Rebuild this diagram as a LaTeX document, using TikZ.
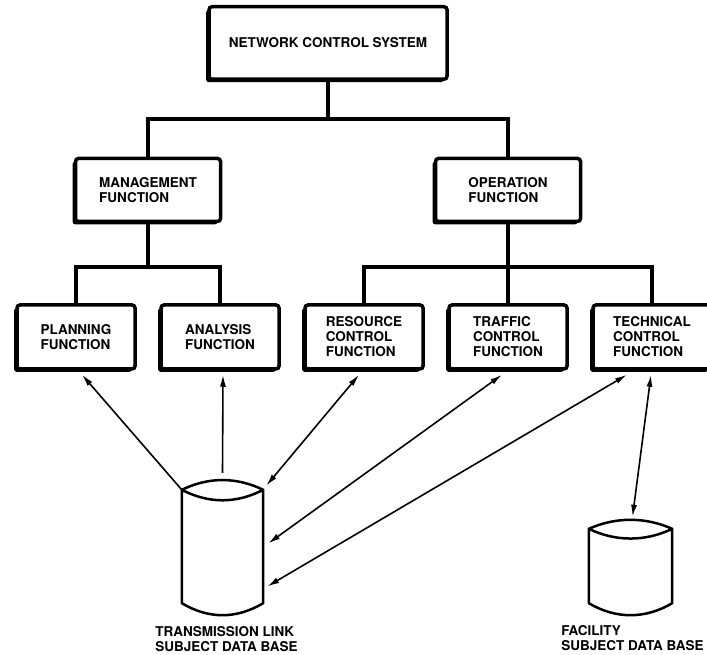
\documentclass[tikz,border=0pt]{standalone}
\usepackage{fontspec}
\setmainfont{TeX Gyre Heros}
\usetikzlibrary{arrows.meta,shadows}

\begin{document}
\begin{tikzpicture}[
  x=1pt, y=1pt,
  level distance=147pt,
  fnbox/.style={draw, line width=3.5pt, fill=white, rounded corners=3pt,
    align=left, inner sep=2pt, font=\fontsize{13.5}{15}\selectfont\bfseries,
    drop shadow={shadow xshift=-3pt, shadow yshift=-3pt, fill=black, opacity=1}},
  every child node/.style={fnbox},
  edge from parent/.style={draw, line width=4pt},
  level 1/.style={sibling distance=360pt, minimum width=145pt, minimum height=63pt,
    edge from parent path={(\tikzparentnode.south) -- +(0,-38) -| (\tikzchildnode.north)}},
  level 2/.style={sibling distance=144pt, minimum width=118pt, minimum height=64pt,
    edge from parent path={(\tikzparentnode.south) -- +(0,-44) -| (\tikzchildnode.north)}},
  dbline/.style={line width=2.5pt, line join=round},
  lbl/.style={align=left, inner sep=0pt, anchor=north, font=\fontsize{13.5}{15}\selectfont\bfseries},
  link/.style={line width=1.6pt, -{Latex[length=12pt,width=6pt]}},
  both/.style={link, {Latex[length=12pt,width=6pt]}-{Latex[length=12pt,width=6pt]}}
]
  \useasboundingbox (0,0) rectangle (707,654);

  \node[fnbox, minimum width=238pt, minimum height=72.5pt] (ncs) at (328,611) {NETWORK CONTROL SYSTEM}
    child {node (mgmt) {MANAGEMENT\\FUNCTION}
      child {node (plan) {PLANNING\\FUNCTION}}
      child {node (anal) {ANALYSIS\\FUNCTION}}
    }
    child {node (oper) {OPERATION\\FUNCTION}
      child {node (res) {RESOURCE\\CONTROL\\FUNCTION}}
      child {node (traf) {TRAFFIC\\CONTROL\\FUNCTION}}
      child {node (tech) {TECHNICAL\\CONTROL\\FUNCTION}}
    };

  \node[minimum width=81pt, minimum height=113pt, inner sep=0pt] (linkdb) at (222.5,107.5) {};
  \node[minimum width=83pt, minimum height=74pt, inner sep=0pt] (facdb) at (630.5,88) {};
  \foreach \db/\d in {linkdb/13, facdb/12}
    \draw[dbline] (\db.north west) .. controls +(27,\d) and +(-27,\d) .. (\db.north east)
      .. controls +(-27,-\d-1) and +(27,-\d-1) .. (\db.north west) -- (\db.south west)
      .. controls +(27,-16) and +(-27,-16) .. (\db.south east) -- (\db.north east);

  \node[lbl] (linklbl) at ([shift={(4,-23)}]linkdb.south) {TRANSMISSION LINK\\SUBJECT DATA BASE};
  \node[lbl] (faclbl) at ([shift={(2,-22)}]facdb.south) {FACILITY\\SUBJECT DATA BASE};

  \draw[link] (linkdb.north west) -- ([shift={(6,-4)}]plan.south);
  \draw[link] ([yshift=17pt]linkdb.north) -- ([shift={(3,-4)}]anal.south);
  \draw[both] ([shift={(3,4)}]linkdb.north east) -- ([shift={(-5,-4)}]res.south);
  \draw[both] ([shift={(5,3)}]linkdb.east) -- ([shift={(-6,-4)}]traf.south);
  \draw[both] ([shift={(4,-40)}]linkdb.east) -- ([shift={(-25,-4)}]tech.south);
  \draw[both] ([shift={(-1,-4)}]tech.south) -- ([shift={(2,12)}]facdb.north);
\end{tikzpicture}
\end{document}
